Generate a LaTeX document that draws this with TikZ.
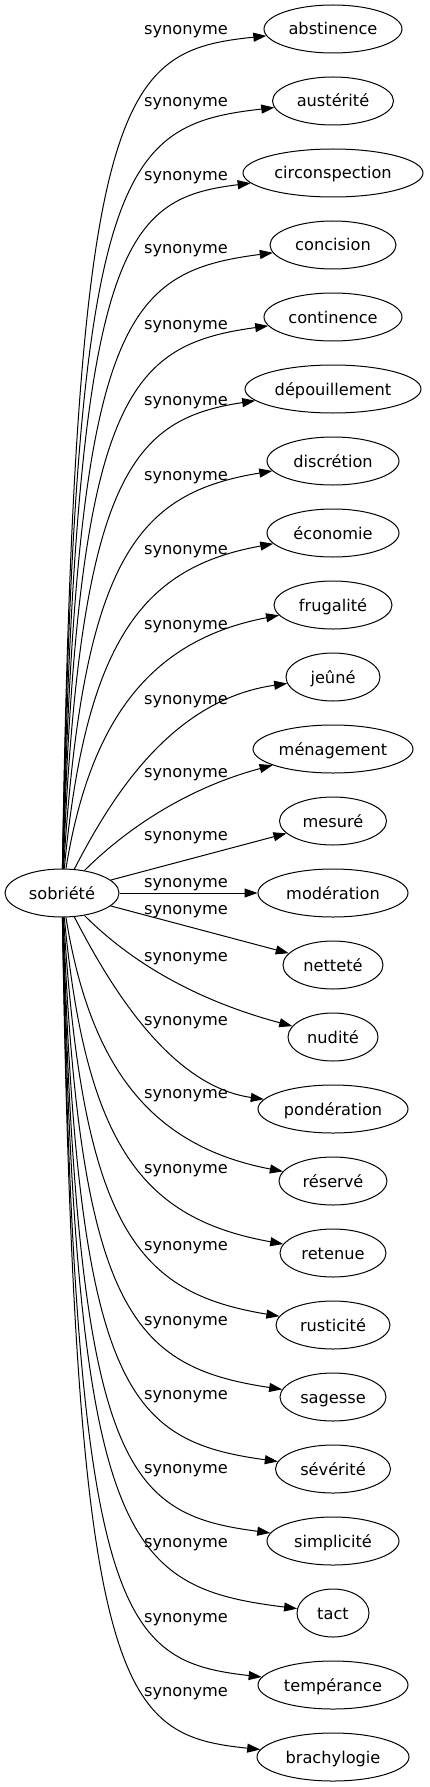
\documentclass[tikz,border=0pt]{standalone}
\usepackage{fontspec}
\setmainfont{DejaVu Sans}
\usepackage{tikz}
\usetikzlibrary{arrows.meta, shapes.geometric}

\begin{document}
\begin{tikzpicture}[x = 1pt, y = -1pt, line width = 1pt,
  font = \fontsize{16.2pt}{19pt}\selectfont,
  word/.style = {draw, ellipse, minimum height = 48pt, inner sep = 0pt, text height = 12pt, text depth = 0pt},
  rel/.style = {inner sep = 0pt, text height = 12pt, text depth = 0pt},
  edge/.style = {-{Triangle[length = 13pt, width = 9pt]}}]
\useasboundingbox (0, 0) rectangle (429, 1787);
% the word and its synonyms
\node[word, minimum width = 114pt] (sobriete) at (62, 893) {sobriété};
\node[word, minimum width = 138pt] (abstinence) at (333, 29) {abstinence};
\node[word, minimum width = 121pt] (austerite) at (333, 101) {austérité};
\node[word, minimum width = 180pt] (circonspection) at (333, 173) {circonspection};
\node[word, minimum width = 126pt] (concision) at (333, 245) {concision};
\node[word, minimum width = 138pt] (continence) at (333, 317) {continence};
\node[word, minimum width = 176pt] (depouillement) at (333, 389) {dépouillement};
\node[word, minimum width = 132pt] (discretion) at (333, 461) {discrétion};
\node[word, minimum width = 132pt] (economie) at (333, 533) {économie};
\node[word, minimum width = 118pt] (frugalite) at (333, 605) {frugalité};
\node[word, minimum width = 94pt] (jeune) at (333, 677) {jeûné};
\node[word, minimum width = 160pt] (menagement) at (333, 749) {ménagement};
\node[word, minimum width = 107pt] (mesure) at (333, 821) {mesuré};
\node[word, minimum width = 150pt] (moderation) at (333, 893) {modération};
\node[word, minimum width = 100pt] (nettete) at (333, 965) {netteté};
\node[word, minimum width = 90pt] (nudite) at (333, 1037) {nudité};
\node[word, minimum width = 150pt] (ponderation) at (333, 1109) {pondération};
\node[word, minimum width = 108pt] (reserve) at (333, 1181) {réservé};
\node[word, minimum width = 106pt] (retenue) at (333, 1253) {retenue};
\node[word, minimum width = 114pt] (rusticite) at (333, 1325) {rusticité};
\node[word, minimum width = 106pt] (sagesse) at (333, 1397) {sagesse};
\node[word, minimum width = 115pt] (severite) at (333, 1469) {sévérité};
\node[word, minimum width = 132pt] (simplicite) at (333, 1541) {simplicité};
\node[word, minimum width = 72pt] (tact) at (333, 1613) {tact};
\node[word, minimum width = 150pt] (temperance) at (333, 1685) {tempérance};
\node[word, minimum width = 152pt] (brachylogie) at (333, 1757) {brachylogie};
% edge labels
\node[rel] (syn1) at (186, 29) {synonyme};
\node[rel] (syn2) at (186, 101) {synonyme};
\node[rel] (syn3) at (186, 175) {synonyme};
\node[rel] (syn4) at (186, 248) {synonyme};
\node[rel] (syn5) at (186, 323) {synonyme};
\node[rel] (syn6) at (186, 399) {synonyme};
\node[rel] (syn7) at (186, 474) {synonyme};
\node[rel] (syn8) at (186, 548) {synonyme};
\node[rel] (syn9) at (186, 623) {synonyme};
\node[rel] (syn10) at (186, 698) {synonyme};
\node[rel] (syn11) at (186, 771) {synonyme};
\node[rel] (syn12) at (186, 834) {synonyme};
\node[rel] (syn13) at (186, 881) {synonyme};
\node[rel] (syn14) at (186, 908) {synonyme};
\node[rel] (syn15) at (186, 955) {synonyme};
\node[rel] (syn16) at (186, 1019) {synonyme};
\node[rel] (syn17) at (186, 1092) {synonyme};
\node[rel] (syn18) at (186, 1167) {synonyme};
\node[rel] (syn19) at (186, 1244) {synonyme};
\node[rel] (syn20) at (186, 1319) {synonyme};
\node[rel] (syn21) at (186, 1393) {synonyme};
\node[rel] (syn22) at (186, 1467) {synonyme};
\node[rel] (syn23) at (186, 1541) {synonyme};
\node[rel] (syn24) at (186, 1616) {synonyme};
\node[rel] (syn25) at (186, 1690) {synonyme};
% edges
\draw[edge] (sobriete) .. controls (75, 89) and (120, 51) .. (abstinence);
\draw[edge] (sobriete) .. controls (75, 167) and (120, 125) .. (austerite);
\draw[edge] (sobriete) .. controls (76, 245) and (122, 199) .. (circonspection);
\draw[edge] (sobriete) .. controls (77, 319) and (124, 272) .. (concision);
\draw[edge] (sobriete) .. controls (78, 395) and (128, 345) .. (continence);
\draw[edge] (sobriete) .. controls (80, 474) and (133, 419) .. (depouillement);
\draw[edge] (sobriete) .. controls (83, 556) and (138, 493) .. (discretion);
\draw[edge] (sobriete) .. controls (86, 638) and (144, 567) .. (economie);
\draw[edge] (sobriete) .. controls (90, 720) and (150, 640) .. (frugalite);
\draw[edge] (sobriete) .. controls (110, 800) and (170, 700) .. (jeune);
\draw[edge] (sobriete) .. controls (120, 835) and (180, 790) .. (menagement);
\draw[edge] (sobriete) -- (mesure);
\draw[edge] (sobriete) -- (moderation);
\draw[edge] (sobriete) -- (nettete);
\draw[edge] (sobriete) .. controls (120, 951) and (180, 996) .. (nudite);
\draw[edge] (sobriete) .. controls (110, 986) and (170, 1086) .. (ponderation);
\draw[edge] (sobriete) .. controls (90, 1066) and (150, 1146) .. (reserve);
\draw[edge] (sobriete) .. controls (86, 1148) and (144, 1219) .. (retenue);
\draw[edge] (sobriete) .. controls (83, 1230) and (138, 1293) .. (rusticite);
\draw[edge] (sobriete) .. controls (80, 1312) and (133, 1367) .. (sagesse);
\draw[edge] (sobriete) .. controls (78, 1391) and (128, 1441) .. (severite);
\draw[edge] (sobriete) .. controls (77, 1467) and (124, 1514) .. (simplicite);
\draw[edge] (sobriete) .. controls (76, 1541) and (122, 1587) .. (tact);
\draw[edge] (sobriete) .. controls (75, 1619) and (120, 1661) .. (temperance);
\draw[edge] (sobriete) .. controls (75, 1697) and (120, 1735) .. (brachylogie);
\end{tikzpicture}
\end{document}
